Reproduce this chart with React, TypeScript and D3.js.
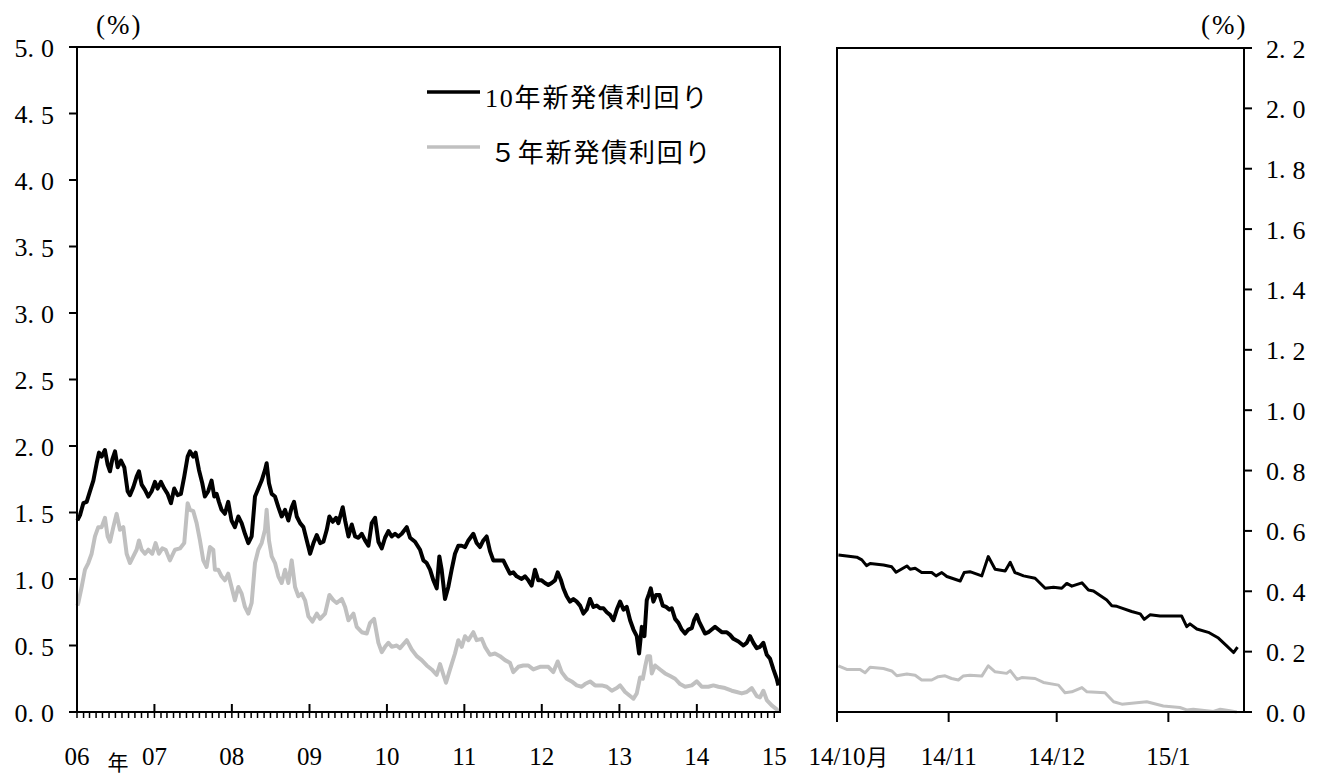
import React from "react";
import * as d3 from "d3";

// ---- Data ----
// Long panel: [decimal year, yield %]
const jgb10Long: [number, number][] = [
  [2006.005, 1.44], [2006.039, 1.48], [2006.082, 1.57], [2006.125, 1.58], [2006.168, 1.66], [2006.211, 1.74],
  [2006.254, 1.87], [2006.284, 1.95], [2006.318, 1.92], [2006.361, 1.97], [2006.396, 1.86], [2006.426, 1.81],
  [2006.456, 1.9], [2006.491, 1.96], [2006.525, 1.84], [2006.568, 1.89], [2006.611, 1.84], [2006.654, 1.66],
  [2006.684, 1.63], [2006.727, 1.69], [2006.77, 1.77], [2006.8, 1.81], [2006.835, 1.71], [2006.878, 1.67],
  [2006.921, 1.62], [2006.964, 1.66], [2007.007, 1.73], [2007.041, 1.68], [2007.084, 1.73], [2007.127, 1.68],
  [2007.17, 1.64], [2007.213, 1.57], [2007.256, 1.68], [2007.299, 1.63], [2007.342, 1.64], [2007.385, 1.77],
  [2007.429, 1.92], [2007.459, 1.96], [2007.502, 1.92], [2007.532, 1.95], [2007.575, 1.82], [2007.618, 1.72],
  [2007.652, 1.62], [2007.695, 1.66], [2007.738, 1.74], [2007.773, 1.62], [2007.803, 1.64], [2007.833, 1.58],
  [2007.867, 1.52], [2007.91, 1.49], [2007.953, 1.58], [2007.996, 1.44], [2008.039, 1.39], [2008.083, 1.47],
  [2008.126, 1.42], [2008.169, 1.34], [2008.212, 1.27], [2008.255, 1.32], [2008.298, 1.62], [2008.341, 1.68],
  [2008.384, 1.74], [2008.427, 1.82], [2008.448, 1.87], [2008.478, 1.72], [2008.513, 1.64], [2008.556, 1.62],
  [2008.599, 1.54], [2008.642, 1.47], [2008.685, 1.52], [2008.728, 1.44], [2008.771, 1.54], [2008.801, 1.58],
  [2008.836, 1.47], [2008.879, 1.42], [2008.922, 1.39], [2008.965, 1.29], [2009.008, 1.19], [2009.051, 1.27],
  [2009.094, 1.33], [2009.137, 1.27], [2009.18, 1.28], [2009.223, 1.37], [2009.257, 1.47], [2009.3, 1.43],
  [2009.343, 1.46], [2009.373, 1.42], [2009.429, 1.54], [2009.46, 1.44], [2009.503, 1.32], [2009.546, 1.41],
  [2009.589, 1.32], [2009.632, 1.31], [2009.675, 1.34], [2009.718, 1.29], [2009.761, 1.25], [2009.804, 1.42],
  [2009.847, 1.46], [2009.89, 1.28], [2009.933, 1.23], [2009.976, 1.31], [2010.019, 1.36], [2010.062, 1.32],
  [2010.105, 1.34], [2010.148, 1.32], [2010.191, 1.34], [2010.256, 1.39], [2010.299, 1.31], [2010.363, 1.28],
  [2010.428, 1.22], [2010.471, 1.14], [2010.514, 1.12], [2010.557, 1.07], [2010.6, 0.99], [2010.643, 0.93],
  [2010.677, 1.17], [2010.707, 1.07], [2010.75, 0.85], [2010.793, 0.94], [2010.836, 1.07], [2010.879, 1.19],
  [2010.922, 1.25], [2010.966, 1.25], [2011.009, 1.24], [2011.052, 1.29], [2011.116, 1.34], [2011.159, 1.27],
  [2011.202, 1.24], [2011.245, 1.29], [2011.288, 1.32], [2011.331, 1.21], [2011.374, 1.14], [2011.417, 1.14],
  [2011.46, 1.14], [2011.503, 1.14], [2011.546, 1.09], [2011.589, 1.04], [2011.632, 1.05], [2011.676, 1.02],
  [2011.74, 1.0], [2011.783, 1.02], [2011.826, 0.99], [2011.869, 0.95], [2011.912, 1.07], [2011.955, 0.99],
  [2011.998, 0.99], [2012.041, 0.97], [2012.084, 0.955], [2012.127, 0.97], [2012.17, 0.99], [2012.205, 1.05],
  [2012.248, 0.99], [2012.278, 0.93], [2012.321, 0.87], [2012.364, 0.83], [2012.407, 0.85], [2012.45, 0.83],
  [2012.493, 0.8], [2012.536, 0.74], [2012.579, 0.77], [2012.622, 0.85], [2012.665, 0.79], [2012.708, 0.8],
  [2012.751, 0.78], [2012.794, 0.78], [2012.837, 0.75], [2012.88, 0.73], [2012.923, 0.69], [2012.966, 0.77],
  [2013.009, 0.83], [2013.052, 0.77], [2013.095, 0.79], [2013.138, 0.69], [2013.181, 0.62], [2013.224, 0.57],
  [2013.254, 0.44], [2013.289, 0.64], [2013.323, 0.57], [2013.353, 0.84], [2013.383, 0.89], [2013.405, 0.93],
  [2013.439, 0.83], [2013.474, 0.88], [2013.517, 0.88], [2013.56, 0.8], [2013.603, 0.79], [2013.646, 0.77],
  [2013.676, 0.78], [2013.719, 0.7], [2013.762, 0.67], [2013.805, 0.62], [2013.848, 0.59], [2013.891, 0.62],
  [2013.934, 0.63], [2013.964, 0.69], [2013.999, 0.73], [2014.029, 0.68], [2014.063, 0.64], [2014.106, 0.59],
  [2014.149, 0.6], [2014.192, 0.62], [2014.235, 0.64], [2014.278, 0.62], [2014.322, 0.6], [2014.386, 0.6],
  [2014.429, 0.58], [2014.472, 0.55], [2014.537, 0.53], [2014.601, 0.5], [2014.644, 0.52], [2014.687, 0.57],
  [2014.73, 0.52], [2014.773, 0.48], [2014.816, 0.49], [2014.859, 0.52], [2014.903, 0.43], [2014.946, 0.4],
  [2014.989, 0.32], [2015.032, 0.25], [2015.053, 0.2],
];

const jgb5Long: [number, number][] = [
  [2006.005, 0.8], [2006.017, 0.82], [2006.06, 0.94], [2006.103, 1.07], [2006.146, 1.12], [2006.189, 1.19],
  [2006.232, 1.32], [2006.275, 1.39], [2006.318, 1.39], [2006.361, 1.46], [2006.396, 1.32], [2006.426, 1.28],
  [2006.469, 1.39], [2006.512, 1.49], [2006.555, 1.37], [2006.598, 1.39], [2006.641, 1.19], [2006.684, 1.12],
  [2006.727, 1.17], [2006.77, 1.22], [2006.8, 1.29], [2006.835, 1.22], [2006.878, 1.19], [2006.921, 1.22],
  [2006.972, 1.19], [2007.015, 1.27], [2007.058, 1.19], [2007.102, 1.23], [2007.145, 1.22], [2007.2, 1.14],
  [2007.265, 1.22], [2007.33, 1.23], [2007.385, 1.27], [2007.429, 1.57], [2007.459, 1.52], [2007.502, 1.51],
  [2007.545, 1.42], [2007.588, 1.29], [2007.631, 1.14], [2007.674, 1.09], [2007.717, 1.24], [2007.76, 1.22],
  [2007.781, 1.07], [2007.824, 1.07], [2007.867, 1.02], [2007.91, 0.99], [2007.953, 1.04], [2007.996, 0.94],
  [2008.039, 0.84], [2008.083, 0.94], [2008.126, 0.89], [2008.169, 0.79], [2008.212, 0.74], [2008.255, 0.82],
  [2008.298, 1.12], [2008.341, 1.22], [2008.384, 1.27], [2008.427, 1.37], [2008.448, 1.52], [2008.478, 1.29],
  [2008.513, 1.17], [2008.556, 1.12], [2008.599, 1.02], [2008.642, 0.97], [2008.685, 1.07], [2008.728, 0.97],
  [2008.771, 1.14], [2008.814, 0.94], [2008.857, 0.87], [2008.9, 0.89], [2008.943, 0.84], [2008.986, 0.72],
  [2009.038, 0.68], [2009.094, 0.74], [2009.137, 0.7], [2009.201, 0.74], [2009.257, 0.88], [2009.309, 0.84],
  [2009.352, 0.82], [2009.417, 0.85], [2009.46, 0.79], [2009.503, 0.69], [2009.567, 0.74], [2009.61, 0.64],
  [2009.675, 0.6], [2009.739, 0.59], [2009.782, 0.67], [2009.834, 0.7], [2009.89, 0.52], [2009.933, 0.45],
  [2009.976, 0.49], [2010.019, 0.52], [2010.062, 0.49], [2010.126, 0.5], [2010.169, 0.48], [2010.256, 0.54],
  [2010.32, 0.47], [2010.385, 0.42], [2010.449, 0.39], [2010.514, 0.35], [2010.578, 0.32], [2010.643, 0.28],
  [2010.686, 0.36], [2010.729, 0.28], [2010.763, 0.22], [2010.815, 0.32], [2010.879, 0.44], [2010.922, 0.54],
  [2010.966, 0.49], [2011.009, 0.57], [2011.052, 0.54], [2011.116, 0.6], [2011.159, 0.54], [2011.224, 0.55],
  [2011.267, 0.49], [2011.331, 0.43], [2011.396, 0.44], [2011.46, 0.42], [2011.525, 0.39], [2011.589, 0.37],
  [2011.632, 0.3], [2011.697, 0.34], [2011.762, 0.35], [2011.826, 0.35], [2011.891, 0.32], [2011.977, 0.34],
  [2012.041, 0.34], [2012.084, 0.34], [2012.149, 0.3], [2012.205, 0.38], [2012.256, 0.3], [2012.321, 0.25],
  [2012.385, 0.23], [2012.45, 0.2], [2012.514, 0.19], [2012.557, 0.21], [2012.622, 0.23], [2012.686, 0.2],
  [2012.772, 0.2], [2012.837, 0.19], [2012.902, 0.16], [2012.966, 0.18], [2013.009, 0.2], [2013.074, 0.15],
  [2013.138, 0.12], [2013.181, 0.1], [2013.224, 0.14], [2013.267, 0.26], [2013.302, 0.25], [2013.332, 0.34],
  [2013.362, 0.42], [2013.396, 0.42], [2013.418, 0.29], [2013.461, 0.35], [2013.525, 0.32], [2013.59, 0.29],
  [2013.655, 0.27], [2013.719, 0.25], [2013.784, 0.21], [2013.848, 0.19], [2013.934, 0.2], [2013.999, 0.23],
  [2014.063, 0.19], [2014.149, 0.19], [2014.214, 0.2], [2014.278, 0.19], [2014.364, 0.18], [2014.451, 0.16],
  [2014.515, 0.15], [2014.58, 0.14], [2014.644, 0.15], [2014.709, 0.18], [2014.773, 0.12], [2014.816, 0.11],
  [2014.859, 0.16], [2014.903, 0.09], [2014.967, 0.05], [2015.032, 0.02], [2015.05, 0.0],
];

// Short panel: [days since 2014-10-01, yield %]
const jgb10Short: [number, number][] = [
  [0.4, 0.52], [2.7, 0.517], [5.5, 0.513], [6.9, 0.504], [8.2, 0.485], [9.2, 0.492], [12.9, 0.487],
  [15.2, 0.481], [16.4, 0.463], [19.4, 0.484], [20.3, 0.473], [21.7, 0.476], [23.5, 0.462], [26.3, 0.462],
  [27.5, 0.451], [29.1, 0.462], [30.5, 0.449], [34.2, 0.434], [35.3, 0.462], [36.9, 0.465], [40.2, 0.451],
  [42.0, 0.515], [43.9, 0.473], [46.7, 0.467], [48.1, 0.496], [49.4, 0.462], [51.8, 0.451], [55.0, 0.443],
  [57.8, 0.41], [60.1, 0.413], [62.4, 0.41], [63.8, 0.426], [65.2, 0.417], [68.0, 0.428], [69.8, 0.404],
  [71.2, 0.401], [74.9, 0.371], [76.3, 0.352], [77.7, 0.35], [79.1, 0.344], [81.8, 0.333], [84.2, 0.325],
  [85.3, 0.307], [86.9, 0.322], [89.7, 0.318], [92.5, 0.318], [95.7, 0.318], [97.1, 0.283], [98.0, 0.292],
  [99.9, 0.275], [103.1, 0.264], [105.9, 0.245], [108.2, 0.219], [110.1, 0.197], [111.2, 0.215],
];

const jgb5Short: [number, number][] = [
  [0.4, 0.153], [2.7, 0.141], [6.4, 0.141], [7.8, 0.13], [9.2, 0.148], [12.9, 0.144], [15.2, 0.136],
  [16.6, 0.12], [19.4, 0.126], [21.7, 0.122], [23.5, 0.106], [26.3, 0.106], [28.1, 0.117], [30.0, 0.12],
  [31.8, 0.111], [33.7, 0.106], [35.0, 0.119], [36.9, 0.122], [40.2, 0.119], [42.0, 0.153], [43.9, 0.133],
  [47.1, 0.128], [48.1, 0.137], [50.0, 0.108], [51.3, 0.114], [55.0, 0.111], [57.3, 0.098], [61.5, 0.089],
  [63.3, 0.064], [65.2, 0.067], [68.0, 0.081], [69.4, 0.067], [74.4, 0.064], [76.8, 0.034], [79.1, 0.026],
  [83.2, 0.031], [86.0, 0.034], [90.6, 0.02], [95.2, 0.015], [97.1, 0.007], [98.9, 0.009], [104.5, 0.002],
  [106.4, 0.009], [109.1, 0.004], [111.0, 0.0],
];

const leftYTicks = [0, 0.5, 1, 1.5, 2, 2.5, 3, 3.5, 4, 4.5, 5];
const rightYTicks = [0, 0.2, 0.4, 0.6, 0.8, 1.0, 1.2, 1.4, 1.6, 1.8, 2.0, 2.2];
const yearLabels = ["06", "07", "08", "09", "10", "11", "12", "13", "14", "15"];
const monthLabels = ["14/10", "14/11", "14/12", "15/1"];
const seriesNames = ["10年新発債利回り", "５年新発債利回り"];
const seriesColors = ["#000000", "#c0c0c0"];

// ---- helpers ----
const decYear = (t: number) => {
  const y = Math.floor(t);
  const s = new Date(y, 0, 1).getTime();
  const e = new Date(y + 1, 0, 1).getTime();
  return new Date(s + (t - y) * (e - s));
};
const shortStart = new Date(2014, 9, 1);
const dayOff = (d: number) => new Date(shortStart.getTime() + d * 86400000);

const FONT = "'Liberation Serif', 'Times New Roman', 'DejaVu Serif', 'Noto Sans CJK JP', serif";
const CJK = "'Noto Sans CJK JP', sans-serif";

function TickLabel({ x, y, v, anchor }: { x: number; y: number; v: number; anchor: string }) {
  const [a, b] = d3.format(".1f")(v).split(".");
  return (
    <text x={x} y={y} textAnchor={anchor} dominantBaseline="central" fontSize={26} fontFamily={FONT} fill="#000">
      {a}.<tspan dx={7}>{b}</tspan>
    </text>
  );
}

export default function App() {
  const W = 1317, H = 776;
  // left panel
  const lx = d3.scaleTime().domain([new Date(2006, 0, 1), new Date(2015, 0, 28)]).range([77, 780]);
  const ly = d3.scaleLinear().domain([0, 5]).range([712, 47]);
  // right panel
  const rx = d3.scaleTime().domain([shortStart, new Date(2015, 0, 22)]).range([837, 1244]);
  const ry = d3.scaleLinear().domain([0, 2.2]).range([712, 48]);

  const lineL = d3.line<[number, number]>().x((d) => lx(decYear(d[0]))).y((d) => ly(d[1]));
  const lineR = d3.line<[number, number]>().x((d) => rx(dayOff(d[0]))).y((d) => ry(d[1]));

  const months = d3.timeMonth.range(new Date(2006, 0, 1), new Date(2015, 0, 2));
  const years = yearLabels.map((_, i) => new Date(2006 + i, 0, 1));
  const rMonths = monthLabels.map((_, i) => new Date(2014, 9 + i, 1));

  return (
    <svg width={W} height={H} style={{ position: "absolute", left: 0, top: 0, background: "#fff" }}>
      <rect width={W} height={H} fill="#fff" />
      {/* ---------- LEFT PANEL ---------- */}
      <g>
        <path d={lineL(jgb5Long) || ""} fill="none" stroke={seriesColors[1]} strokeWidth={4} strokeLinejoin="round" />
        <path d={lineL(jgb10Long) || ""} fill="none" stroke={seriesColors[0]} strokeWidth={4} strokeLinejoin="round" />
        {/* frame */}
        <rect x={77} y={47} width={703} height={665} fill="none" stroke="#000" strokeWidth={2} />
        {/* y ticks */}
        {leftYTicks.map((v) => (
          <g key={v}>
            <line x1={69} x2={77} y1={ly(v)} y2={ly(v)} stroke="#000" strokeWidth={2} />
            <TickLabel x={54} y={ly(v) + 1} v={v} anchor="end" />
          </g>
        ))}
        {/* monthly minor ticks */}
        {months.map((m, i) => (
          <line key={i} x1={lx(m)} x2={lx(m)} y1={712} y2={718} stroke="#000" strokeWidth={1.5} />
        ))}
        {/* yearly major ticks (inside) */}
        {years.slice(1, 9).map((y, i) => (
          <line key={i} x1={lx(y)} x2={lx(y)} y1={704} y2={712} stroke="#000" strokeWidth={2} />
        ))}
        {yearLabels.map((l, i) => (
          <text key={l} x={lx(years[i])} y={765} textAnchor="middle" fontSize={25} fontFamily={FONT} fill="#000">
            {l}
          </text>
        ))}
        <text x={118} y={770} textAnchor="middle" fontSize={21} fontFamily={CJK} fill="#000">年</text>
        <text x={96} y={34} fontSize={27} letterSpacing={2} fontFamily={FONT} fill="#000">(%)</text>
        {/* legend */}
        {seriesNames.map((n, i) => (
          <g key={n}>
            <line x1={427} x2={480} y1={92 + i * 55} y2={92 + i * 55} stroke={seriesColors[i]} strokeWidth={3.5} />
            <text x={i === 0 ? 485 : 490} y={101 + i * 55} dominantBaseline="middle" fontSize={26} letterSpacing={1.8} fontFamily={FONT} fill="#000">
              {n}
            </text>
          </g>
        ))}
      </g>

      {/* ---------- RIGHT PANEL ---------- */}
      <g>
        <path d={lineR(jgb5Short) || ""} fill="none" stroke={seriesColors[1]} strokeWidth={3} strokeLinejoin="round" />
        <path d={lineR(jgb10Short) || ""} fill="none" stroke={seriesColors[0]} strokeWidth={3} strokeLinejoin="round" />
        <rect x={837} y={48} width={407} height={664} fill="none" stroke="#000" strokeWidth={2} />
        {rightYTicks.map((v) => (
          <g key={v}>
            <line x1={1244} x2={1252} y1={ry(v)} y2={ry(v)} stroke="#000" strokeWidth={2} />
            <TickLabel x={1266} y={ry(v) + 1} v={v} anchor="start" />
          </g>
        ))}
        {rMonths.map((m, i) => (
          <g key={i}>
            <line x1={rx(m)} x2={rx(m)} y1={712} y2={722} stroke="#000" strokeWidth={2} />
            <text x={rx(m)} y={765} textAnchor="middle" fontSize={25} fontFamily={FONT} fill="#000">
              {monthLabels[i]}
            </text>
          </g>
        ))}
        <text x={rx(rMonths[0]) + 29} y={765} fontSize={22} fontFamily={CJK} fill="#000">月</text>
        <text x={1201} y={34} fontSize={27} letterSpacing={2} fontFamily={FONT} fill="#000">(%)</text>
      </g>
    </svg>
  );
}
